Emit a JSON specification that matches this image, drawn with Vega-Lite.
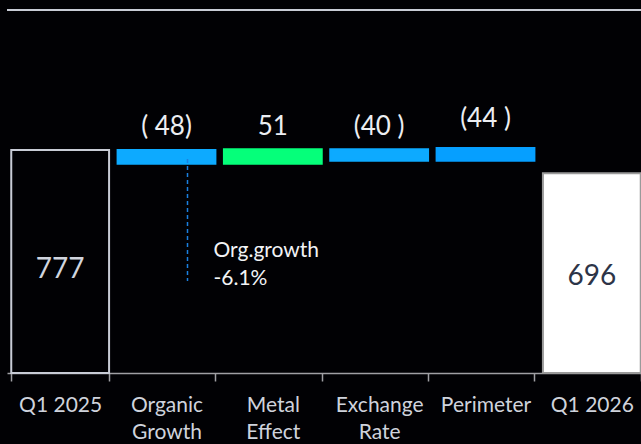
{
  "$schema": "https://vega.github.io/schema/vega-lite/v6.json",
  "width": 638,
  "height": 363,
  "autosize": {"type": "none"},
  "padding": {"left": 7, "top": 10, "right": 0, "bottom": 71},
  "background": "#010104",
  "config": {
    "view": {"stroke": null},
    "font": "Lato"
  },
  "data": {
    "values": [
      {"category": "Q1 2025", "start": 0, "end": 777, "label": "777"},
      {"category": "Organic Growth", "start": 777, "end": 729, "label": "( 48)"},
      {"category": "Metal Effect", "start": 729, "end": 780, "label": "51"},
      {"category": "Exchange Rate", "start": 780, "end": 740, "label": "(40 )"},
      {"category": "Perimeter", "start": 784, "end": 740, "label": "(44 )"},
      {"category": "Q1 2026", "start": 0, "end": 696, "label": "696"}
    ]
  },
  "layer": [
    {
      "mark": {"type": "bar", "strokeWidth": 2},
      "encoding": {
        "x": {
          "field": "category",
          "type": "nominal",
          "sort": ["Q1 2025", "Organic Growth", "Metal Effect", "Exchange Rate", "Perimeter", "Q1 2026"],
          "scale": {"paddingInner": 0.08, "paddingOuter": 0.04},
          "axis": {
            "title": null,
            "labelAngle": 0,
            "labelFont": "Lato",
            "labelFontSize": 21,
            "labelColor": "#cfd3dc",
            "labelPadding": 13,
            "labelLineHeight": 27,
            "labelExpr": "indexof(datum.label, 'Q1') == 0 ? datum.label : split(datum.label, ' ')",
            "domainColor": "#a0a0a4",
            "domainWidth": 1.5,
            "tickColor": "#a0a0a4",
            "tickSize": 8,
            "tickWidth": 1.5,
            "tickBand": "extent",
            "grid": false
          }
        },
        "y": {"field": "start", "type": "quantitative", "scale": {"domain": [0, 1265], "nice": false, "zero": false}, "axis": null},
        "y2": {"field": "end"},
        "fill": {
          "field": "category",
          "type": "nominal",
          "scale": {
            "domain": ["Q1 2025", "Organic Growth", "Metal Effect", "Exchange Rate", "Perimeter", "Q1 2026"],
            "range": ["#010104", "#0DAAFF", "#05FF7A", "#0DAAFF", "#069FFF", "#FFFFFF"]
          },
          "legend": null
        },
        "stroke": {
          "field": "category",
          "type": "nominal",
          "scale": {
            "domain": ["Q1 2025", "Organic Growth", "Metal Effect", "Exchange Rate", "Perimeter", "Q1 2026"],
            "range": ["#c8ccd6", "#0DAAFF", "#05FF7A", "#0DAAFF", "#069FFF", "#9a9a9a"]
          },
          "legend": null
        }
      }
    },
    {
      "mark": {"type": "rule", "color": "#c8ccd6", "strokeWidth": 1.5},
      "encoding": {"y": {"datum": 1265}}
    },
    {
      "transform": [{"filter": "datum.category == 'Organic Growth' || datum.category == 'Metal Effect' || datum.category == 'Exchange Rate'"}],
      "mark": {"type": "text", "fontSize": 26, "color": "#eceef2", "baseline": "alphabetic"},
      "encoding": {"x": {"field": "category", "type": "nominal", "sort": ["Q1 2025", "Organic Growth", "Metal Effect", "Exchange Rate", "Perimeter", "Q1 2026"]}, "y": {"datum": 829}, "text": {"field": "label"}}
    },
    {
      "transform": [{"filter": "datum.category == 'Perimeter'"}],
      "mark": {"type": "text", "fontSize": 26, "color": "#eceef2", "baseline": "alphabetic"},
      "encoding": {"x": {"field": "category", "type": "nominal", "sort": ["Q1 2025", "Organic Growth", "Metal Effect", "Exchange Rate", "Perimeter", "Q1 2026"]}, "y": {"datum": 857}, "text": {"field": "label"}}
    },
    {
      "transform": [{"filter": "datum.category == 'Q1 2025'"}],
      "mark": {"type": "text", "fontSize": 28, "color": "#d0d4de", "baseline": "alphabetic"},
      "encoding": {"x": {"field": "category", "type": "nominal", "sort": ["Q1 2025", "Organic Growth", "Metal Effect", "Exchange Rate", "Perimeter", "Q1 2026"]}, "y": {"datum": 331}, "text": {"field": "label"}}
    },
    {
      "transform": [{"filter": "datum.category == 'Q1 2026'"}],
      "mark": {"type": "text", "fontSize": 28, "color": "#2d3447", "baseline": "alphabetic"},
      "encoding": {"x": {"field": "category", "type": "nominal", "sort": ["Q1 2025", "Organic Growth", "Metal Effect", "Exchange Rate", "Perimeter", "Q1 2026"]}, "y": {"datum": 307}, "text": {"field": "label"}}
    },
    {
      "transform": [{"filter": "datum.category == 'Organic Growth'"}],
      "mark": {"type": "rule", "color": "#1a80e0", "strokeWidth": 1.5, "strokeDash": [4, 3], "xOffset": 21},
      "encoding": {"x": {"field": "category", "type": "nominal", "sort": ["Q1 2025", "Organic Growth", "Metal Effect", "Exchange Rate", "Perimeter", "Q1 2026"]}, "y": {"datum": 746}, "y2": {"datum": 321}}
    },
    {
      "transform": [{"filter": "datum.category == 'Organic Growth'"}],
      "mark": {"type": "text", "fontSize": 21, "color": "#f2f3f6", "align": "left", "baseline": "alphabetic", "xOffset": 47, "text": "Org.growth"},
      "encoding": {"x": {"field": "category", "type": "nominal", "sort": ["Q1 2025", "Organic Growth", "Metal Effect", "Exchange Rate", "Perimeter", "Q1 2026"]}, "y": {"datum": 404}}
    },
    {
      "transform": [{"filter": "datum.category == 'Organic Growth'"}],
      "mark": {"type": "text", "fontSize": 21, "color": "#f2f3f6", "align": "left", "baseline": "alphabetic", "xOffset": 47, "text": "-6.1%"},
      "encoding": {"x": {"field": "category", "type": "nominal", "sort": ["Q1 2025", "Organic Growth", "Metal Effect", "Exchange Rate", "Perimeter", "Q1 2026"]}, "y": {"datum": 307}}
    }
  ]
}
